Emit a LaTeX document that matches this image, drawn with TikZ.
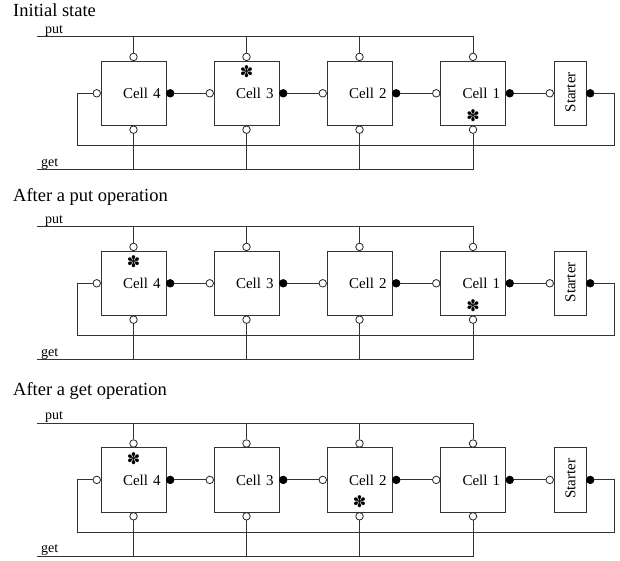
\documentclass[tikz,border=0pt]{standalone}
\usepackage{fontspec}
\setmainfont{Liberation Serif}
\newfontfamily\symfont{DejaVu Sans}
\tikzset{
  wire/.style={line width=1pt, draw=black!80},
  cellbox/.style={draw=black!80, line width=1pt, minimum width=65pt, minimum height=64.3pt,
    inner sep=0pt, text width=54pt, align=right, font=\fontsize{15}{15}\selectfont},
  starterbox/.style={draw=black!80, line width=1pt, minimum width=32pt, minimum height=64.3pt,
    inner sep=0pt},
  opendot/.style={circle, draw=black!85, fill=white, line width=0.8pt, minimum size=7.5pt, inner sep=0pt},
  fulldot/.style={circle, draw=black, fill=black, line width=0.8pt, minimum size=7.5pt, inner sep=0pt},
  busname/.style={font=\fontsize{14}{14}\selectfont, anchor=base west, inner sep=0pt},
  heading/.style={font=\fontsize{18.5}{18.5}\selectfont, anchor=base west, inner sep=0pt},
  token/.style={font=\symfont\fontsize{16}{16}\selectfont, inner sep=0pt},
}
% One queue of four cells and a starter; #1 name prefix, #2 height of the put bus
\newcommand\fifopanel[2]{%
  \begin{scope}[shift={(0,#2)}]
    \node[cellbox] (#1c4) at (133.5,56.6) {Cell 4};
    \node[cellbox] (#1c3) at (246.5,56.6) {Cell 3};
    \node[cellbox] (#1c2) at (359.5,56.6) {Cell 2};
    \node[cellbox] (#1c1) at (473,56.6) {Cell 1};
    \node[starterbox] (#1st) at (570,56.6) {};
    \node[rotate=90, font=\fontsize{15}{15}\selectfont, inner sep=0pt] (#1stl) at (570.5,55.5) {Starter};
    \coordinate (#1pl) at (37,0);
    \coordinate (#1gl) at (37,133);
    \coordinate (#1ll) at (77,109);
    \coordinate (#1lr) at (614,109);
    \node[busname] (#1put) at (45,-3.5) {put};
    \node[busname] (#1get) at (41,129.5) {get};
    \foreach \c in {c4,c3,c2,c1} {
      \node[opendot] (#1\c n) at ([yshift=3.75pt]#1\c.north) {};
      \node[opendot] (#1\c s) at ([yshift=-3.75pt]#1\c.south) {};
      \node[opendot] (#1\c w) at ([xshift=-3.75pt]#1\c.west) {};
      \node[fulldot] (#1\c e) at ([xshift=3.75pt]#1\c.east) {};
    }
    \node[opendot] (#1stw) at ([xshift=-3.75pt]#1st.west) {};
    \node[fulldot] (#1ste) at ([xshift=3.75pt]#1st.east) {};
    % put and get buses
    \draw[wire] (#1pl) -- (#1pl -| #1c1n) -- (#1c1n.north);
    \draw[wire] (#1gl) -- (#1gl -| #1c1s) -- (#1c1s.south);
    \foreach \c in {c4,c3,c2} {
      \draw[wire] (#1\c n.north) -- (#1\c n.north |- #1pl);
      \draw[wire] (#1\c s.south) -- (#1\c s.south |- #1gl);
    }
    % chain of cells
    \draw[wire] (#1c4e) -- (#1c3w);
    \draw[wire] (#1c3e) -- (#1c2w);
    \draw[wire] (#1c2e) -- (#1c1w);
    \draw[wire] (#1c1e) -- (#1stw);
    % feedback from the starter back to cell 4
    \draw[wire] (#1ste.east) -| (#1lr) -- (#1ll) |- (#1c4w.west);
  \end{scope}%
}
\begin{document}
\begin{tikzpicture}[x=1pt, y=-1pt]
  \useasboundingbox (0,0) rectangle (620,561);
  % initial state
  \node[heading] (h1) at (13,17) {Initial state};
  \fifopanel{a}{36.7}
  \node[token] (a3) at ([yshift=-11pt]ac3.north) {✽};
  \node[token] (a1) at ([yshift=10.5pt]ac1.south) {✽};
  % after put
  \node[heading] (h2) at (13,201.7) {After a put operation};
  \fifopanel{b}{226.7}
  \node[token] (b4) at ([yshift=-11pt]bc4.north) {✽};
  \node[token] (b1) at ([yshift=10.5pt]bc1.south) {✽};
  % after get
  \node[heading] (h3) at (13,395) {After a get operation};
  \fifopanel{c}{423.3}
  \node[token] (c4) at ([yshift=-11pt]cc4.north) {✽};
  \node[token] (c2) at ([yshift=10.5pt]cc2.south) {✽};
\end{tikzpicture}
\end{document}
